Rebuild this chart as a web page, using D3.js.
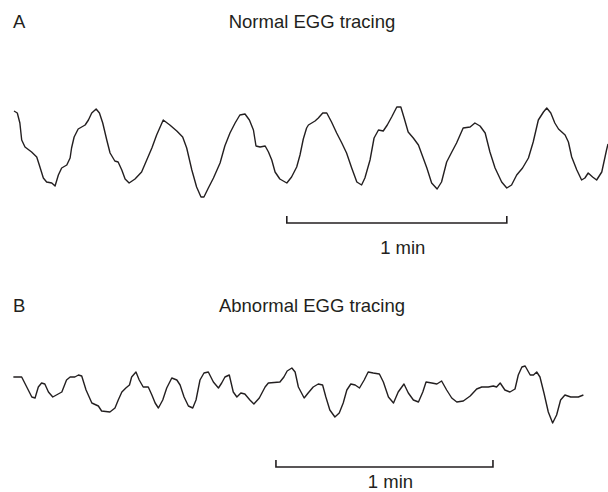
<!DOCTYPE html>
<html>
<head>
<meta charset="utf-8">
<script src="https://cdn.jsdelivr.net/npm/d3@7"></script>
<style>
  html, body { margin: 0; padding: 0; background: #fff; }
  svg { display: block; }
  text { font-family: "Liberation Sans", Arial, Helvetica, sans-serif; fill: #231f20; }
</style>
</head>
<body>
<svg id="chart" width="608" height="492"></svg>
<script>
// Panel A: normal EGG (time in s, amplitude in arbitrary µV units)
const timeA = [0,0.9,1.6,2.1,3.0,4.8,6.2,6.9,8.0,8.9,10.3,11.2,12.1,13.0,14.4,15.3,15.7,16.4,17.5,19.4,20.3,21.2,22.4,23.3,24.2,25.3,26.2,27.5,28.4,29.4,30.3,31.4,33.0,34.8,36.2,37.6,38.9,40.7,42.5,44.4,46.0,47.1,48.5,49.8,51.0,51.8,53.0,54.4,56.2,57.5,58.9,60.3,61.6,63.0,64.2,65.3,66.0,67.1,68.5,69.4,70.3,71.2,72.5,74.4,75.7,77.1,78.0,78.9,79.8,80.3,82.1,83.0,84.2,85.3,86.6,88.0,89.4,90.7,92.1,93.5,94.8,95.7,97.1,98.2,99.4,100.7,101.8,103.0,104.4,105.5,106.4,107.5,108.9,110.3,111.5,112.6,113.9,115.4,116.6,118.0,119.4,120.7,122.5,124.4,125.7,127.1,128.5,129.8,131.2,133.0,134.4,135.7,137.1,138.7,140.3,141.6,143.0,144.4,145.3,146.4,147.5,148.5,150.3,151.2,152.1,153.5,154.8,155.7,156.6,157.8,158.9,160.3,161.6,162.0];
const ampA = [39,37,27,10,3,-2,-7,-15,-28,-32,-33,-36,-25,-18,-15,-8,2,13,21,25,30,37,41,37,27,10,-3,-11,-12,-20,-29,-33,-29,-22,-10,2,15,30,25,19,13,2,-20,-37,-47,-47,-38,-28,-13,4,17,27,35,36,30,20,4,3,4,-2,-10,-22,-29,-33,-27,-17,-5,11,22,25,29,32,37,37,28,17,7,-3,-18,-32,-35,-28,-10,12,20,19,25,33,43,43,32,18,12,5,-7,-18,-33,-39,-32,-12,-2,7,22,23,27,24,17,-2,-18,-32,-38,-35,-25,-18,-8,8,30,38,42,37,27,21,15,8,-7,-20,-30,-28,-23,-27,-30,-22,0,6];

// Panel B: abnormal EGG
const timeB = [0.1,2.4,3.8,5.2,6.1,7.0,7.9,8.8,9.8,11.0,12.5,13.5,14.8,15.8,17.1,18.1,19.0,20.2,21.8,23.6,24.5,26.8,28.2,29.1,30.1,31.2,32.2,32.8,34.0,34.9,36.0,37.4,38.4,39.3,40.2,41.4,42.5,43.9,45.3,46.2,47.3,48.5,49.7,50.6,51.7,52.8,54.0,55.4,56.8,57.7,58.6,59.8,60.9,61.9,63.0,64.1,65.5,66.6,68.1,69.7,70.6,73.8,74.9,75.8,77.1,78.0,78.9,80.5,81.6,83.0,84.4,85.6,86.5,87.6,89.0,90.2,91.3,92.3,93.4,94.6,95.8,97.1,98.2,99.6,101.3,102.4,103.8,105.2,106.5,108.1,109.3,110.7,112.1,113.3,114.2,115.8,117.2,118.5,119.9,121.3,122.7,124.5,126.4,128.2,129.6,131.4,132.8,133.7,134.7,136.0,137.4,138.8,139.7,140.7,141.6,143.0,143.9,144.8,145.7,146.8,148.0,149.2,150.3,151.4,152.6,154.2,156.3,157.7];
const ampB = [18,18,8,-2,-3,8,12,11,3,-2,1,3,15,18,18,20,19,5,-8,-11,-16,-17,-13,-5,3,7,10,18,23,15,8,8,0,-8,-13,-5,7,17,15,10,-2,-11,-13,-5,15,22,23,13,7,12,18,20,3,-2,2,1,-5,-9,-3,8,12,13,18,24,27,23,8,-3,2,8,11,10,-2,-15,-22,-18,-8,5,11,10,7,15,23,22,21,13,-2,-8,3,11,2,-5,-7,3,13,12,11,14,5,-3,-7,-6,-1,6,8,8,9,8,12,5,3,6,20,28,29,20,20,23,18,2,-17,-28,-20,-5,0,-2,-2,0];

const panelLabels = ["A", "B"];
const panelTitles = ["Normal EGG tracing", "Abnormal EGG tracing"];
const scaleBarSeconds = 60;
const scaleBarLabel = "1 min";
const scaleBarStart = [74.4, 72.7]; // seconds

const svg = d3.select("#chart");
const ink = "#231f20";

const panels = [
  { t: timeA, a: ampA, xr: [14, 608], td: [0, 162], yc: 150, barY: 223, labelY: 28, textY: 254, barStart: scaleBarStart[0] },
  { t: timeB, a: ampB, xr: [13, 591.7], td: [0, 160], yc: 395, barY: 467, labelY: 312, textY: 488, barStart: scaleBarStart[1] }
];

panels.forEach((p, i) => {
  const x = d3.scaleLinear().domain(p.td).range(p.xr);
  const y = d3.scaleLinear().domain([-50, 50]).range([p.yc + 50, p.yc - 50]);

  const data = p.t.map((t, k) => [t, p.a[k]]);
  const line = d3.line().x(d => x(d[0])).y(d => y(d[1])).curve(d3.curveLinear);

  svg.append("path")
    .datum(data)
    .attr("d", line)
    .attr("fill", "none")
    .attr("stroke", ink)
    .attr("stroke-width", 1.4)
    .attr("stroke-linejoin", "round");

  svg.append("text")
    .attr("x", 13).attr("y", p.labelY)
    .attr("font-size", 18.5)
    .text(panelLabels[i]);

  svg.append("text")
    .attr("x", 312).attr("y", p.labelY)
    .attr("text-anchor", "middle")
    .attr("font-size", 18.5)
    .text(panelTitles[i]);

  // scale bar
  const x0 = x(p.barStart), x1 = x(p.barStart + scaleBarSeconds);
  svg.append("path")
    .attr("d", `M${x0},${p.barY - 7}V${p.barY}H${x1}V${p.barY - 7}`)
    .attr("fill", "none")
    .attr("stroke", ink)
    .attr("stroke-width", 1.6);

  svg.append("text")
    .attr("x", (x0 + x1) / 2 + 6).attr("y", p.textY)
    .attr("text-anchor", "middle")
    .attr("font-size", 18.5)
    .text(scaleBarLabel);
});
</script>
</body>
</html>
